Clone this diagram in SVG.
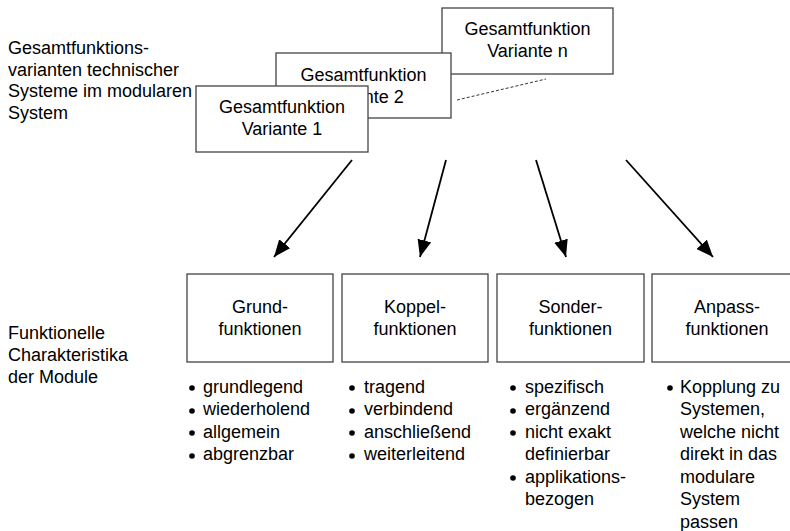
<svg xmlns="http://www.w3.org/2000/svg" width="790" height="531" viewBox="0 0 790 531">
  <style>
    text { font-family: "Liberation Sans", Arial, sans-serif; font-size: 18px; fill: #000; }
    .c { text-anchor: middle; }
    .box { fill: #fff; stroke: #444; stroke-width: 1.3; }
    .arrow { stroke: #000; stroke-width: 1.8; fill: none; marker-end: url(#head); }
    .dash { stroke: #333; stroke-width: 1; stroke-dasharray: 3 2; fill: none; }
    .dot { fill: #000; }
  </style>
  <defs>
    <marker id="head" markerUnits="userSpaceOnUse" markerWidth="18" markerHeight="16" refX="17" refY="7" orient="auto">
      <path d="M0,0 L17,7 L0,14 z" fill="#000"/>
    </marker>
  </defs>
  <rect width="790" height="531" fill="#fff"/>

  <!-- row labels -->
  <g id="label-top">
    <text x="8" y="54">Gesamtfunktions-</text>
    <text x="8" y="76">varianten technischer</text>
    <text x="8" y="97">Systeme im modularen</text>
    <text x="8" y="119">System</text>
  </g>
  <g id="label-bottom">
    <text x="8" y="339">Funktionelle</text>
    <text x="8" y="361">Charakteristika</text>
    <text x="8" y="383">der Module</text>
  </g>

  <!-- stacked overall-function variants (back to front) -->
  <g id="variant-n">
    <rect class="box" x="442" y="8" width="171" height="66"/>
    <text class="c" x="527.5" y="35">Gesamtfunktion</text>
    <text class="c" x="527.5" y="57">Variante n</text>
  </g>
  <g id="variant-2">
    <rect class="box" x="276" y="53" width="175" height="65"/>
    <text class="c" x="363.5" y="81">Gesamtfunktion</text>
    <text class="c" x="363.5" y="103">Variante 2</text>
  </g>
  <g id="variant-1">
    <rect class="box" x="196" y="86" width="172" height="66"/>
    <text class="c" x="282" y="113">Gesamtfunktion</text>
    <text class="c" x="282" y="135">Variante 1</text>
  </g>

  <!-- connectors -->
  <g id="connectors">
    <line class="dash" x1="457" y1="100" x2="546" y2="79"/>
    <line class="arrow" x1="352" y1="160" x2="274" y2="257"/>
    <line class="arrow" x1="446" y1="160" x2="420" y2="257"/>
    <line class="arrow" x1="536" y1="160" x2="566" y2="257"/>
    <line class="arrow" x1="626" y1="160" x2="713" y2="257"/>
  </g>

  <!-- module function types -->
  <g id="grundfunktionen">
    <rect class="box" x="187" y="274" width="146" height="88"/>
    <text class="c" x="260" y="313">Grund-</text>
    <text class="c" x="260" y="335">funktionen</text>
    <circle class="dot" cx="192" cy="388" r="2.8"/>
    <circle class="dot" cx="192" cy="411" r="2.8"/>
    <circle class="dot" cx="192" cy="433" r="2.8"/>
    <circle class="dot" cx="192" cy="456" r="2.8"/>
    <text x="203" y="393">grundlegend</text>
    <text x="203" y="415">wiederholend</text>
    <text x="203" y="438">allgemein</text>
    <text x="203" y="460">abgrenzbar</text>
  </g>
  <g id="koppelfunktionen">
    <rect class="box" x="342" y="274" width="146" height="88"/>
    <text class="c" x="415" y="313">Koppel-</text>
    <text class="c" x="415" y="335">funktionen</text>
    <circle class="dot" cx="352" cy="388" r="2.8"/>
    <circle class="dot" cx="352" cy="411" r="2.8"/>
    <circle class="dot" cx="352" cy="433" r="2.8"/>
    <circle class="dot" cx="352" cy="456" r="2.8"/>
    <text x="364" y="393">tragend</text>
    <text x="364" y="415">verbindend</text>
    <text x="364" y="438">anschließend</text>
    <text x="364" y="460">weiterleitend</text>
  </g>
  <g id="sonderfunktionen">
    <rect class="box" x="497" y="274" width="147" height="88"/>
    <text class="c" x="570.5" y="313">Sonder-</text>
    <text class="c" x="570.5" y="335">funktionen</text>
    <circle class="dot" cx="513" cy="388" r="2.8"/>
    <circle class="dot" cx="513" cy="411" r="2.8"/>
    <circle class="dot" cx="513" cy="433" r="2.8"/>
    <circle class="dot" cx="513" cy="478" r="2.8"/>
    <text x="525" y="393">spezifisch</text>
    <text x="525" y="415">ergänzend</text>
    <text x="525" y="438">nicht exakt</text>
    <text x="525" y="460">definierbar</text>
    <text x="525" y="483">applikations-</text>
    <text x="525" y="505">bezogen</text>
  </g>
  <g id="anpassfunktionen">
    <rect class="box" x="652" y="274" width="150" height="88"/>
    <text class="c" x="727" y="313">Anpass-</text>
    <text class="c" x="727" y="335">funktionen</text>
    <circle class="dot" cx="670" cy="388" r="2.8"/>
    <text x="680" y="393">Kopplung zu</text>
    <text x="680" y="415">Systemen,</text>
    <text x="680" y="438">welche nicht</text>
    <text x="680" y="460">direkt in das</text>
    <text x="680" y="483">modulare</text>
    <text x="680" y="505">System</text>
    <text x="680" y="528">passen</text>
  </g>
</svg>
